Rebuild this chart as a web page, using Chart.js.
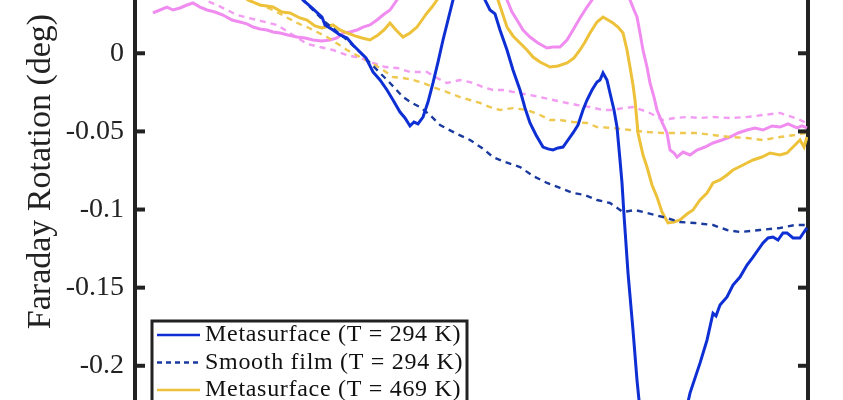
<!DOCTYPE html>
<html>
<head>
<meta charset="utf-8">
<script src="https://cdn.jsdelivr.net/npm/chart.js@4/dist/chart.umd.min.js"></script>
<style>
  html, body { margin: 0; padding: 0; background: #fff; overflow: hidden; }
  #wrap { position: relative; width: 843px; height: 400px; }
</style>
</head>
<body>
<div id="wrap"><canvas id="faraday"></canvas></div>
<script>
// Faraday rotation spectra (deg) vs wavelength (nm)
const wlMeta294 = [675, 684, 688.5, 693.5, 695, 699, 702.5, 706, 709, 712.5, 715.5, 719, 722.5, 726, 729, 732.5, 735, 737.5, 739.5, 741.5, 744, 746.5, 749, 751.5, 754, 756.5, 759, 762.5, 767.5, 771.5, 775, 777.5, 780, 782.5, 786, 789, 792.5, 795, 797.5, 800.5, 804, 806.5, 809, 811.5, 814, 816.5, 819, 821.5, 824, 826, 828.5, 831, 832.5, 834, 836, 837.5, 839.5, 841, 842.5, 843.5, 844.5, 846.5, 849, 851, 853, 862.5, 868.5, 874.5, 877.5, 882.5, 886, 889, 890.5, 892.5, 896, 899, 902.5, 906, 909, 911.5, 914, 916.5, 919, 921.5, 924, 926, 929, 932.5, 934.5, 936];
const rotMeta294 = [0.0533, 0.0341, 0.0290, 0.0232, 0.0181, 0.0149, 0.0117, 0.0098, 0.0053, 0.0008, -0.0030, -0.0120, -0.0171, -0.0235, -0.0299, -0.0376, -0.0414, -0.0465, -0.0440, -0.0452, -0.0408, -0.0312, -0.0190, -0.0056, 0.0085, 0.0213, 0.0341, 0.0501, 0.0597, 0.0469, 0.0341, 0.0277, 0.0252, 0.0149, 0.0021, -0.0107, -0.0235, -0.0350, -0.0446, -0.0523, -0.0600, -0.0612, -0.0619, -0.0606, -0.0600, -0.0555, -0.0510, -0.0459, -0.0363, -0.0299, -0.0235, -0.0184, -0.0171, -0.0126, -0.0171, -0.0254, -0.0363, -0.0472, -0.0683, -0.0830, -0.1035, -0.1406, -0.1772, -0.2092, -0.2347, -0.2571, -0.2539, -0.2347, -0.2175, -0.1983, -0.1836, -0.1664, -0.1681, -0.1611, -0.1560, -0.1483, -0.1432, -0.1355, -0.1304, -0.1259, -0.1214, -0.1182, -0.1176, -0.1195, -0.1150, -0.1150, -0.1182, -0.1182, -0.1144, -0.1118];

const wlFilm294 = [675, 684, 690, 695, 700, 706, 712.5, 717.5, 722.5, 727.5, 734, 738.5, 742.5, 747.5, 752.5, 760, 767.5, 773.5, 779, 785, 792.5, 799, 806, 812.5, 819, 825, 831, 837.5, 844, 850, 856, 864, 872.5, 880, 889, 896, 902.5, 912.5, 922.5, 930, 936];
const rotFilm294 = [0.0533, 0.0341, 0.0264, 0.0200, 0.0149, 0.0085, 0.0008, -0.0062, -0.0126, -0.0190, -0.0280, -0.0318, -0.0344, -0.0395, -0.0459, -0.0510, -0.0555, -0.0606, -0.0664, -0.0696, -0.0728, -0.0785, -0.0830, -0.0862, -0.0894, -0.0907, -0.0939, -0.0958, -0.1016, -0.1003, -0.1022, -0.1048, -0.1080, -0.1086, -0.1099, -0.1131, -0.1144, -0.1131, -0.1118, -0.1099, -0.1099];

const wlMeta469 = [647.5, 656.5, 662.5, 669, 673.5, 677.5, 682.5, 686, 690, 693.5, 699, 702.5, 706, 710, 713.5, 717.5, 721.5, 724.5, 727.5, 730.5, 734, 737.5, 741, 743.5, 746, 748.5, 751, 757.5, 772.5, 780, 781.5, 784, 786, 789, 792.5, 796, 799, 802.5, 807.5, 811.5, 816, 819.5, 822.5, 825, 827.5, 831, 834, 836.5, 839, 841.5, 844, 846, 847.5, 849, 850, 851.5, 854, 856, 858.5, 861, 863.5, 866.5, 869.5, 872.5, 876, 879, 882.5, 886, 889, 892.5, 896, 899, 904, 909, 913.5, 917.5, 922.5, 926, 930, 932.5, 934.5, 936];
const rotMeta469 = [0.0437, 0.0341, 0.0309, 0.0296, 0.0264, 0.0258, 0.0226, 0.0213, 0.0175, 0.0162, 0.0181, 0.0149, 0.0130, 0.0111, 0.0098, 0.0085, 0.0117, 0.0149, 0.0194, 0.0149, 0.0104, 0.0130, 0.0168, 0.0213, 0.0258, 0.0296, 0.0341, 0.0501, 0.0565, 0.0405, 0.0341, 0.0245, 0.0168, 0.0111, 0.0066, 0.0021, -0.0024, -0.0056, -0.0088, -0.0081, -0.0062, -0.0030, 0.0021, 0.0072, 0.0130, 0.0200, 0.0232, 0.0213, 0.0194, 0.0168, 0.0130, 0.0021, -0.0088, -0.0203, -0.0299, -0.0510, -0.0651, -0.0728, -0.0843, -0.0920, -0.1016, -0.1086, -0.1080, -0.1067, -0.1029, -0.1003, -0.0939, -0.0894, -0.0830, -0.0811, -0.0779, -0.0747, -0.0715, -0.0683, -0.0664, -0.0638, -0.0651, -0.0638, -0.0587, -0.0555, -0.0600, -0.0536];

const wlFilm469 = [647.5, 656.5, 669, 681, 686, 696, 706, 712.5, 717.5, 724, 729, 734, 739, 744, 749, 756, 762.5, 767.5, 772.5, 777.5, 782.5, 789, 796, 802.5, 807.5, 812.5, 819, 826, 831, 839, 847.5, 856, 864, 872.5, 881, 889, 897.5, 906, 914, 922.5, 930, 936];
const rotFilm469 = [0.0437, 0.0341, 0.0277, 0.0194, 0.0168, 0.0104, 0.0021, -0.0024, -0.0056, -0.0107, -0.0152, -0.0158, -0.0171, -0.0190, -0.0216, -0.0248, -0.0280, -0.0299, -0.0318, -0.0344, -0.0363, -0.0351, -0.0363, -0.0395, -0.0427, -0.0427, -0.0440, -0.0446, -0.0472, -0.0478, -0.0491, -0.0504, -0.0510, -0.0510, -0.0510, -0.0523, -0.0536, -0.0542, -0.0555, -0.0536, -0.0523, -0.0510];

const wlMetaHot = [609, 612.5, 616, 619, 622.5, 626, 629, 632.5, 636, 640, 644, 648.5, 652.5, 656, 659, 662.5, 666, 669, 672.5, 676.5, 681, 685, 689, 693.5, 697.5, 701, 704, 707.5, 711, 714, 717.5, 721, 724, 727.5, 731, 737.5, 752.5, 780, 786, 788.5, 791, 794, 797.5, 801.5, 806, 809, 812.5, 816, 819, 822.5, 826, 828.5, 832.5, 840, 845, 847.5, 849.5, 851, 852.5, 854, 856, 857.5, 859.5, 861, 863.5, 866, 867.5, 869.5, 871, 874, 877.5, 881, 885, 889, 893.5, 897.5, 901.5, 906, 910, 914, 918.5, 922.5, 926.5, 931, 933.5, 936];
const rotMetaHot = [0.0258, 0.0277, 0.0296, 0.0277, 0.0290, 0.0309, 0.0322, 0.0296, 0.0277, 0.0264, 0.0245, 0.0213, 0.0200, 0.0188, 0.0168, 0.0156, 0.0149, 0.0136, 0.0130, 0.0117, 0.0104, 0.0098, 0.0085, 0.0079, 0.0085, 0.0098, 0.0130, 0.0136, 0.0149, 0.0168, 0.0181, 0.0213, 0.0245, 0.0277, 0.0341, 0.0469, 0.0597, 0.0533, 0.0341, 0.0264, 0.0213, 0.0149, 0.0104, 0.0066, 0.0034, 0.0040, 0.0040, 0.0085, 0.0149, 0.0226, 0.0296, 0.0341, 0.0437, 0.0469, 0.0405, 0.0341, 0.0277, 0.0232, 0.0130, 0.0021, -0.0088, -0.0190, -0.0280, -0.0363, -0.0440, -0.0510, -0.0619, -0.0638, -0.0664, -0.0632, -0.0651, -0.0619, -0.0600, -0.0574, -0.0555, -0.0536, -0.0510, -0.0491, -0.0478, -0.0491, -0.0465, -0.0472, -0.0452, -0.0478, -0.0465, -0.0478];

const wlFilmHot = [627.5, 635, 641, 651, 661, 671, 679, 686, 692.5, 699, 706, 712.5, 719, 725, 731, 737.5, 746, 751, 756, 762.5, 767.5, 774, 779, 785, 791, 797.5, 802.5, 809, 816, 821, 827.5, 834, 839, 844, 849, 856.5, 864, 870, 876, 882.5, 889, 897.5, 906, 914, 922.5, 930, 936];
const rotFilmHot = [0.0405, 0.0341, 0.0309, 0.0245, 0.0213, 0.0181, 0.0117, 0.0060, 0.0040, 0.0021, -0.0011, -0.0030, -0.0062, -0.0088, -0.0094, -0.0120, -0.0120, -0.0158, -0.0190, -0.0171, -0.0184, -0.0216, -0.0235, -0.0235, -0.0254, -0.0267, -0.0280, -0.0299, -0.0318, -0.0331, -0.0344, -0.0363, -0.0363, -0.0351, -0.0344, -0.0376, -0.0427, -0.0414, -0.0408, -0.0414, -0.0408, -0.0414, -0.0408, -0.0395, -0.0382, -0.0414, -0.0446];

const seriesLabels = [
  "Metasurface (T = 294 K)",
  "Smooth film (T = 294 K)",
  "Metasurface (T = 469 K)",
  "Smooth film (T = 469 K)",
  "Metasurface (higher T)",
  "Smooth film (higher T)",
];

// visible window of the axes
const yTicks = [-0.2, -0.15, -0.1, -0.05, 0];
const yMin = -0.2219;
const yMax = 0.0341;
const wlMin = 600;
const wlMax = 936.5;

const SERIF = "'Liberation Serif', 'Times New Roman', serif";
const AXIS_COLOR = "#222222";

function toPoints(xs, ys) {
  return xs.map((x, i) => ({ x: x, y: ys[i] }));
}

function lineSet(label, xs, ys, color, dashed) {
  return {
    label: label,
    data: toPoints(xs, ys),
    borderColor: color,
    backgroundColor: color,
    borderWidth: dashed ? 2.4 : 3,
    borderDash: dashed ? [6, 5] : [],
    pointRadius: 0,
    tension: 0,
    fill: false,
  };
}

// inward tick marks, y title and the boxed legend
const decorPlugin = {
  id: "decor",
  afterDraw(chart) {
    const ctx = chart.ctx;
    const area = chart.chartArea;
    const y = chart.scales.y;

    ctx.save();
    ctx.fillStyle = AXIS_COLOR;
    yTicks.forEach((v) => {
      const py = y.getPixelForValue(v);
      ctx.fillRect(area.left + 2, py - 2, 8, 4);
      ctx.fillRect(area.right - 10, py - 2, 8, 4);
    });

    // y axis title, centred on the visible part of the original axis
    ctx.translate(50, 171.5);
    ctx.rotate(-Math.PI / 2);
    ctx.font = "34px " + SERIF;
    ctx.textAlign = "center";
    ctx.textBaseline = "alphabetic";
    ctx.fillText("Faraday Rotation (deg)", 0, 0);
    ctx.restore();

    // legend box in lower left of the plot
    ctx.save();
    const boxLeft = area.left + 17;
    const boxTop = 321;
    const boxWidth = 315;
    ctx.fillStyle = "#ffffff";
    ctx.fillRect(boxLeft, boxTop, boxWidth, 200);
    ctx.lineWidth = 3;
    ctx.strokeStyle = AXIS_COLOR;
    ctx.strokeRect(boxLeft, boxTop, boxWidth, 200);

    ctx.font = "24px " + SERIF;
    ctx.textBaseline = "middle";
    ctx.textAlign = "left";
    if ("letterSpacing" in ctx) ctx.letterSpacing = "0.7px";
    chart.data.datasets.forEach((ds, i) => {
      const rowY = boxTop + 14 + i * 27.5;
      if (rowY > chart.height + 20) return;
      ctx.beginPath();
      ctx.strokeStyle = ds.borderColor;
      ctx.lineWidth = 2.5;
      ctx.setLineDash(ds.borderDash.length ? [5, 4] : []);
      ctx.moveTo(boxLeft + 5, rowY);
      ctx.lineTo(boxLeft + 48, rowY);
      ctx.stroke();
      ctx.setLineDash([]);
      ctx.fillStyle = "#111111";
      ctx.fillText(ds.label, boxLeft + 53, rowY);
    });
    ctx.restore();
  },
};

function sideAxis(position, showLabels, width) {
  return {
    type: "linear",
    position: position,
    min: yMin,
    max: yMax,
    z: 1,
    grid: { display: true, drawOnChartArea: false, drawTicks: false },
    border: { display: true, width: 4, color: AXIS_COLOR },
    ticks: {
      display: showLabels,
      padding: 11,
      color: AXIS_COLOR,
      font: { family: SERIF, size: 28 },
      callback: (v) => String(v),
    },
    afterBuildTicks: (scale) => {
      scale.ticks = yTicks.map((v) => ({ value: v }));
    },
    afterFit: (scale) => {
      scale.width = width;
      scale.paddingTop = 0;
      scale.paddingBottom = 0;
    },
  };
}

new Chart(document.getElementById("faraday"), {
  type: "line",
  data: {
    datasets: [
      lineSet(seriesLabels[0], wlMeta294, rotMeta294, "#0d2fd4", false),
      lineSet(seriesLabels[1], wlFilm294, rotFilm294, "#1a3a9e", true),
      lineSet(seriesLabels[2], wlMeta469, rotMeta469, "#edc23a", false),
      lineSet(seriesLabels[3], wlFilm469, rotFilm469, "#eec850", true),
      lineSet(seriesLabels[4], wlMetaHot, rotMetaHot, "#f08cf0", false),
      lineSet(seriesLabels[5], wlFilmHot, rotFilmHot, "#f29cf2", true),
    ],
  },
  options: {
    responsive: true,
    maintainAspectRatio: false,
    animation: false,
    layout: { padding: 0 },
    plugins: {
      legend: { display: false },
      tooltip: { enabled: false },
    },
    scales: {
      x: { type: "linear", min: wlMin, max: wlMax, display: false },
      y: sideAxis("left", true, 135),
      y2: sideAxis("right", false, 35),
    },
  },
  plugins: [decorPlugin],
});
</script>
</body>
</html>
